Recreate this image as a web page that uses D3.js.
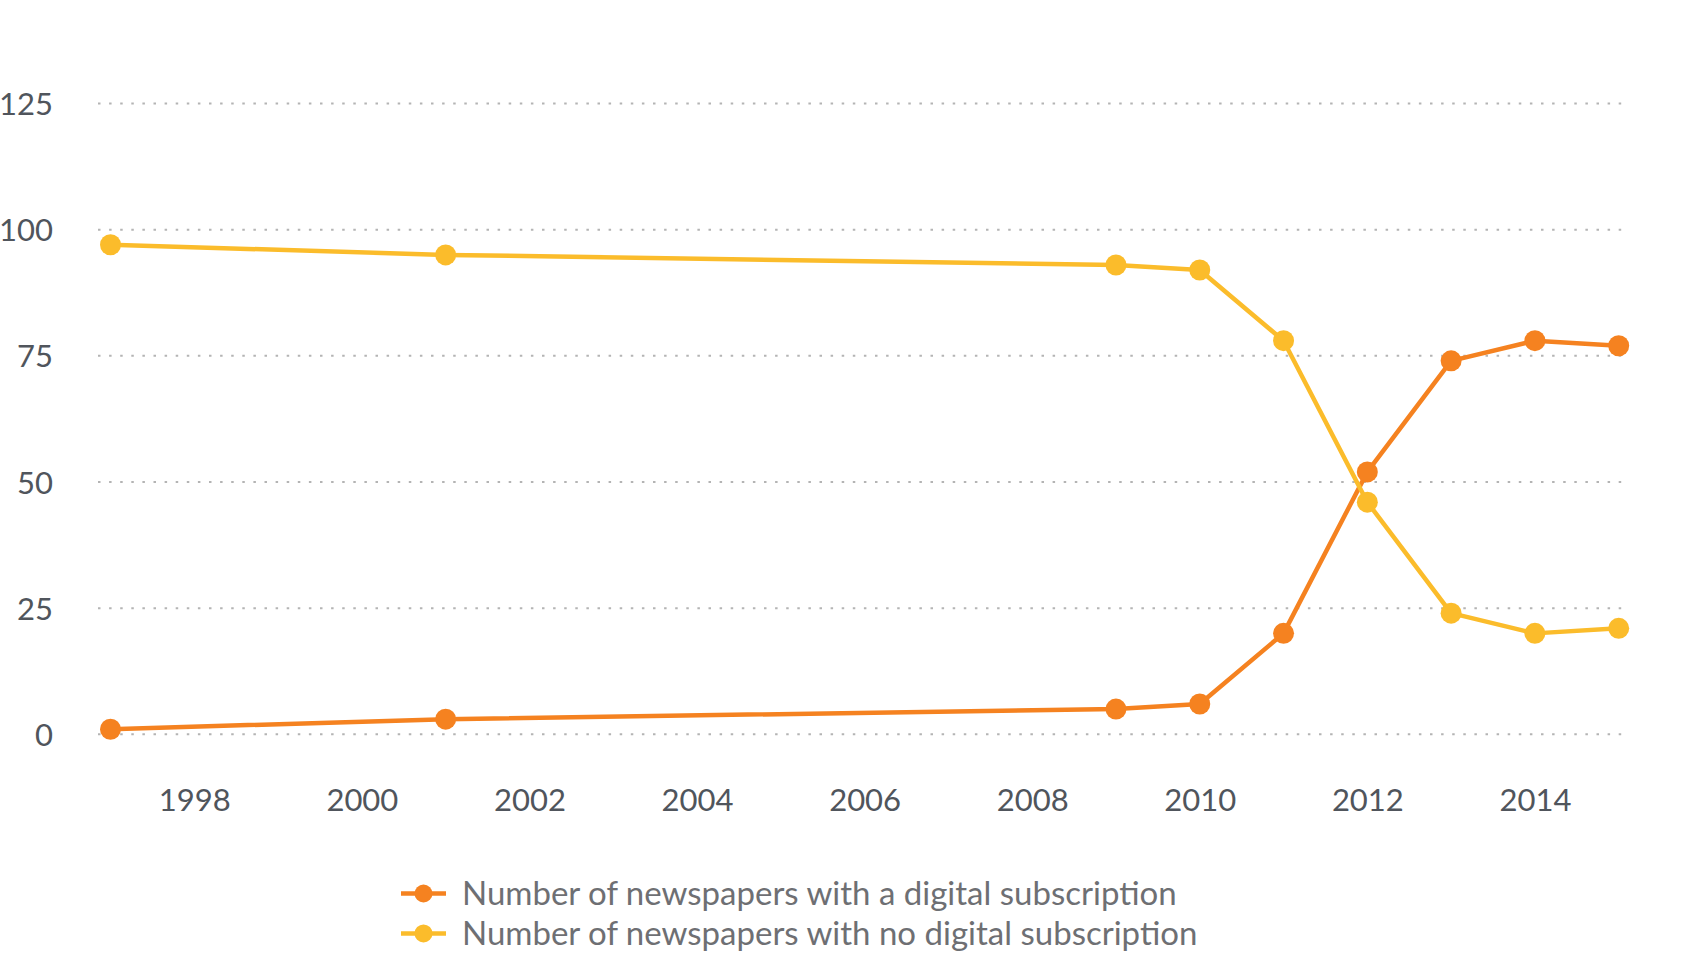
<!DOCTYPE html>
<html>
<head>
<meta charset="utf-8">
<script src="https://cdn.jsdelivr.net/npm/d3@7"></script>
<style>
  html, body { margin: 0; padding: 0; background: #ffffff; }
  svg { display: block; }
  text { font-family: Lato, "Open Sans", sans-serif; }
</style>
</head>
<body>
<svg id="chart" width="1690" height="954"></svg>
<script>
// Survey years and counts of newspapers
const years = [1997, 2001, 2009, 2010, 2011, 2012, 2013, 2014, 2015];
const withDigital = [1, 3, 5, 6, 20, 52, 74, 78, 77];
const withoutDigital = [97, 95, 93, 92, 78, 46, 24, 20, 21];

const yTicks = [0, 25, 50, 75, 100, 125];
const xTicks = [1998, 2000, 2002, 2004, 2006, 2008, 2010, 2012, 2014];

const seriesNames = [
  "Number of newspapers with a digital subscription",
  "Number of newspapers with no digital subscription"
];
const seriesColors = ["#f58220", "#fbbc2b"];

const W = 1690, H = 954;
const gridLeft = 98, gridRight = 1627;

const svg = d3.select("#chart");
svg.append("rect").attr("width", W).attr("height", H).attr("fill", "#ffffff");

const x = d3.scaleLinear().domain([1997, 2015]).range([110.5, 1618.7]);
const y = d3.scaleLinear().domain([0, 125]).range([734.3, 103.5]);

// dotted horizontal gridlines
svg.append("g")
  .selectAll("line")
  .data(yTicks)
  .join("line")
  .attr("x1", gridLeft)
  .attr("x2", gridRight)
  .attr("y1", d => y(d))
  .attr("y2", d => y(d))
  .attr("stroke", "#b4b4b4")
  .attr("stroke-width", 2)
  .attr("stroke-dasharray", "2.5,8.6");

// y axis labels
const yAxis = svg.append("g")
  .attr("transform", `translate(${gridLeft},0)`)
  .call(d3.axisLeft(y).tickValues(yTicks).tickSize(0).tickPadding(45));
yAxis.select(".domain").remove();
yAxis.selectAll("text")
  .attr("font-size", 31)
  .attr("fill", "#50555c")
  .attr("font-family", "Lato, 'Open Sans', sans-serif")
  .attr("dy", "0.36em");

// x axis labels
const xAxis = svg.append("g")
  .attr("transform", `translate(0,${y(0)})`)
  .call(d3.axisBottom(x).tickValues(xTicks).tickFormat(d3.format("d")).tickSize(0).tickPadding(55));
xAxis.select(".domain").remove();
xAxis.selectAll("text")
  .attr("font-size", 31)
  .attr("fill", "#50555c")
  .attr("font-family", "Lato, 'Open Sans', sans-serif");

// series lines and markers
const series = [withDigital, withoutDigital];
const line = d3.line().x(d => x(d.year)).y(d => y(d.value));

series.forEach((vals, i) => {
  const pts = years.map((yr, j) => ({ year: yr, value: vals[j] }));
  const g = svg.append("g");
  g.append("path")
    .datum(pts)
    .attr("d", line)
    .attr("fill", "none")
    .attr("stroke", seriesColors[i])
    .attr("stroke-width", 4.5)
    .attr("stroke-linejoin", "round");
  g.selectAll("circle")
    .data(pts)
    .join("circle")
    .attr("cx", d => x(d.year))
    .attr("cy", d => y(d.value))
    .attr("r", 10.5)
    .attr("fill", seriesColors[i]);
});

// legend
const legendRows = [893.5, 933.4];
const legend = svg.append("g");
seriesNames.forEach((name, i) => {
  const row = legend.append("g").attr("transform", `translate(0,${legendRows[i]})`);
  row.append("line")
    .attr("x1", 401).attr("x2", 446)
    .attr("y1", 0).attr("y2", 0)
    .attr("stroke", seriesColors[i])
    .attr("stroke-width", 4.5);
  row.append("circle")
    .attr("cx", 423.5).attr("cy", 0).attr("r", 9)
    .attr("fill", seriesColors[i]);
  row.append("text")
    .attr("x", 462)
    .attr("y", 0)
    .attr("dy", "0.35em")
    .attr("font-size", 33)
    .attr("font-family", "'Open Sans', Lato, sans-serif")
    .attr("fill", "#6e6f73")
    .text(name);
});
</script>
</body>
</html>
